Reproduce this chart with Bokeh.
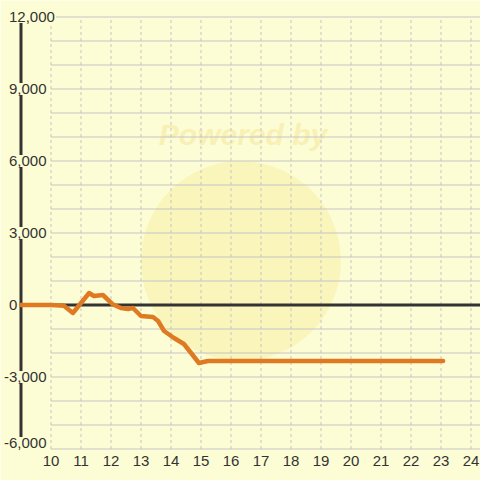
from bokeh.plotting import figure
from bokeh.models import ColumnDataSource, Range1d
from bokeh.core.properties import value
from bokeh.embed import file_html
from bokeh.resources import INLINE

# ---- data ----
x_vals = [9, 10, 10.43, 10.73, 11.27, 11.43, 11.73, 12.07, 12.33, 12.57, 12.73,
          13.0, 13.4, 13.57, 13.77, 14.1, 14.43, 14.67, 14.93, 15.23, 23.07]
y_vals = [0, 0, -30, -333, 500, 375, 417, 20, -125, -167, -125,
          -458, -500, -667, -1083, -1375, -1625, -2000, -2417, -2333, -2333]

x_ticks = list(range(10, 25))
y_ticks = list(range(-6000, 12001, 3000))
y_minor = [v for v in range(-6000, 12001, 1000) if v != 0]

BG = "#fdfdd5"
TXT = "#333333"

X0, X1 = 8.3167, 24.3167
Y0, Y1 = -7312.5, 12687.5

p = figure(width=480, height=480, output_backend="svg", toolbar_location=None,
           x_range=Range1d(X0, X1), y_range=Range1d(Y0, Y1),
           min_border=0, background_fill_color=BG, border_fill_color=BG,
           outline_line_color=None)
p.axis.visible = False
p.grid.visible = False

# faint watermark
p.scatter([16.33], [1833], size=200, marker="circle",
          fill_color="#f6e27a", fill_alpha=0.28, line_color=None)
p.text([16.4], [7125], text=["Powered by"], text_font=value("Liberation Sans"),
       text_font_style="bold italic", text_font_size="30px",
       text_color="#f0dc80", text_alpha=0.4, text_align="center",
       text_baseline="middle")

# horizontal grid (solid)
p.segment(x0=[x_ticks[0]] * len(y_minor), y0=y_minor,
          x1=[X1] * len(y_minor), y1=y_minor,
          line_color="#c4c4c4", line_width=1)
# vertical grid (dashed)
p.segment(x0=x_ticks, y0=[y_ticks[0]] * len(x_ticks),
          x1=x_ticks, y1=[y_ticks[-1]] * len(x_ticks),
          line_color="#c4c4c4", line_width=1, line_dash="3 3")

# zero line and axis line
p.segment(x0=[x_vals[0]], y0=[0], x1=[X1], y1=[0], line_color=TXT, line_width=3)
p.segment(x0=[x_vals[0]], y0=[y_ticks[0]], x1=[x_vals[0]], y1=[y_ticks[-1]],
          line_color=TXT, line_width=3)

# data line
p.line(x_vals, y_vals, line_color="#e07a22", line_width=4.5, line_join="round",
       line_cap="round")

# y labels
ylab = ColumnDataSource(dict(
    x=[8.40 if v < 0 else 8.567 for v in y_ticks],
    y=[v + 250 if v == y_ticks[0] else v for v in y_ticks],
    t=[f"{v:,}" for v in y_ticks]))
p.text(x="x", y="y", text="t", source=ylab, text_font=value("Liberation Sans"),
       text_font_size="15px", text_color=TXT, text_align="left",
       text_baseline="middle", background_fill_color=BG, padding=1)

# x labels
xlab = ColumnDataSource(dict(x=x_ticks, y=[-6500] * len(x_ticks),
                             t=[str(v) for v in x_ticks]))
p.text(x="x", y="y", text="t", source=xlab, text_font=value("Liberation Sans"),
       text_font_size="15px", text_color=TXT, text_align="center",
       text_baseline="middle")

open("out.html", "w").write(file_html(p, INLINE))
